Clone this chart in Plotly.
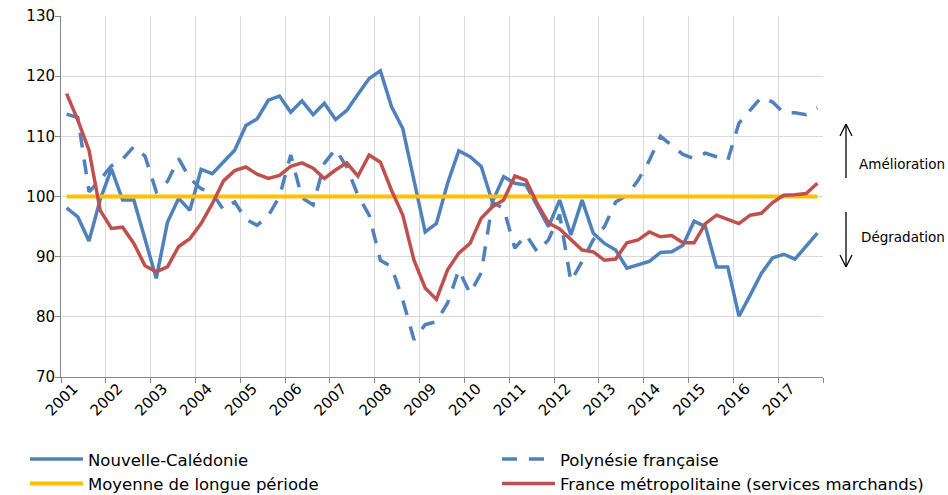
import plotly.graph_objects as go

years = [str(y) for y in range(2001, 2018)]
quarters = list(range(68))

nouvelle_caledonie = [
    98.1, 96.6, 92.6, 99.5, 104.6, 99.4, 99.4, 92.8, 86.4, 95.7, 99.7, 97.7,
    104.5, 103.8, 105.7, 107.7, 111.8, 112.9, 116.0, 116.7, 114.0, 115.9, 113.6, 115.5,
    112.8, 114.3, 117.0, 119.6, 120.9, 114.9, 111.3, 102.6, 94.1, 95.5, 102.2, 107.6,
    106.6, 105.0, 99.1, 103.3, 102.2, 101.9, 98.3, 95.0, 99.4, 93.6, 99.4, 93.9,
    92.2, 91.1, 88.1, 88.6, 89.2, 90.7, 90.8, 91.9, 95.9, 95.0, 88.3, 88.3,
    80.1, 83.6, 87.2, 89.8, 90.4, 89.6, 91.7, 93.9,
]
polynesie = [
    113.7, 113.1, 100.8, 102.8, 105.1, 106.2, 108.3, 106.7, 100.8, 102.5, 106.3, 103.0,
    101.3, 100.6, 97.8, 99.1, 96.2, 95.2, 96.8, 100.0, 106.9, 99.8, 98.6, 105.5,
    107.9, 104.9, 100.2, 96.9, 89.4, 88.3, 82.8, 76.2, 78.7, 79.2, 82.3, 87.8,
    83.9, 87.3, 99.0, 98.0, 91.4, 93.6, 90.8, 92.8, 97.0, 85.9, 89.2, 92.8,
    95.0, 99.1, 100.2, 102.7, 106.0, 110.0, 108.5, 107.0, 106.3, 107.2, 106.6, 106.0,
    112.2, 114.3, 116.5, 115.7, 113.9, 113.9, 113.6, 114.7,
]
moyenne = [100.0] * 68
france = [
    117.1, 112.7, 107.7, 97.7, 94.7, 94.9, 92.2, 88.5, 87.5, 88.3, 91.7, 93.0,
    95.5, 98.8, 102.6, 104.3, 104.9, 103.7, 103.0, 103.5, 105.0, 105.6, 104.7, 103.0,
    104.4, 105.6, 103.4, 106.9, 105.7, 101.0, 96.9, 89.4, 84.8, 82.9, 87.8, 90.6,
    92.2, 96.4, 98.3, 99.4, 103.4, 102.7, 98.8, 95.6, 94.6, 92.8, 91.1, 90.8,
    89.4, 89.6, 92.3, 92.8, 94.1, 93.3, 93.5, 92.3, 92.3, 95.5, 96.9, 96.2,
    95.5, 96.9, 97.2, 99.0, 100.2, 100.3, 100.5, 102.2,
]

BLUE = "#4F81BD"
RED = "#C0504D"
YELLOW = "#FFC000"
FONT = "DejaVu Sans"

fig = go.Figure()
fig.add_trace(go.Scatter(x=quarters, y=nouvelle_caledonie, mode="lines", name="Nouvelle-Calédonie",
                         line=dict(color=BLUE, width=3.5), legend="legend"))
fig.add_trace(go.Scatter(x=quarters, y=polynesie, mode="lines", name="Polynésie française",
                         line=dict(color=BLUE, width=3.5, dash="15px,12px"), legend="legend2"))
fig.add_trace(go.Scatter(x=quarters, y=moyenne, mode="lines", name="Moyenne de longue période",
                         line=dict(color=YELLOW, width=4), legend="legend"))
fig.add_trace(go.Scatter(x=quarters, y=france, mode="lines", name="France métropolitaine (services marchands)",
                         line=dict(color=RED, width=3.5), legend="legend2"))

boundaries = [-0.5 + 4 * k for k in range(18)]
label_pos = [0.6 + 4 * k for k in range(17)]

legend_common = dict(orientation="v", xanchor="left", yanchor="top", y=-0.1797, itemwidth=53,
                     font=dict(family=FONT, size=16.5, color="#000000"),
                     tracegroupgap=0, bgcolor="rgba(0,0,0,0)", traceorder="normal")

fig.update_layout(
    width=948, height=495,
    margin=dict(l=61, r=125, t=16, b=118, autoexpand=False),
    paper_bgcolor="white", plot_bgcolor="white",
    font=dict(family=FONT, size=15, color="#000000"),
    showlegend=True,
    legend=dict(x=(25 - 61) / 762.0, **legend_common),
    legend2=dict(x=(497 - 61) / 762.0, **legend_common),
    xaxis=dict(range=[-0.5, 67.5], tickmode="array", tickvals=label_pos, ticktext=years,
               tickangle=-45, showgrid=False, ticks="",
               showline=True, linecolor="#868686", linewidth=1, zeroline=False,
               ticklabelstandoff=-4,
               tickfont=dict(family=FONT, size=15, color="#000000"),
               minor=dict(tickmode="array", tickvals=boundaries, ticks="outside", ticklen=5,
                          tickcolor="#868686", showgrid=True, gridcolor="#D9D9D9", gridwidth=1)),
    yaxis=dict(range=[70, 130], tickmode="array", tickvals=[70, 80, 90, 100, 110, 120, 130],
               showgrid=True, gridcolor="#D9D9D9", gridwidth=1,
               showline=True, linecolor="#868686", linewidth=1,
               ticks="outside", ticklen=5, tickcolor="#868686", zeroline=False,
               ticklabelstandoff=-3,
               tickfont=dict(family=FONT, size=15, color="#000000")),
)

def px_x(p):
    return (p - 61) / 762.0

def px_y(p):
    return (377 - p) / 361.0

shapes = []
arrow_segments = [
    ((846, 178), (846, 124)), ((840, 136), (846, 124)), ((852, 136), (846, 124)),
    ((846, 212), (846, 267)), ((840, 255), (846, 267)), ((852, 255), (846, 267)),
]
for (x0, y0), (x1, y1) in arrow_segments:
    shapes.append(dict(type="line", xref="paper", yref="paper",
                       x0=px_x(x0), y0=px_y(y0), x1=px_x(x1), y1=px_y(y1),
                       line=dict(color="#000000", width=1.3)))
fig.update_layout(shapes=shapes)

fig.add_annotation(text="Amélioration", xref="paper", yref="paper", x=px_x(857), y=px_y(164),
                   xanchor="left", yanchor="middle", showarrow=False,
                   font=dict(family=FONT, size=13.5, color="#000000"))
fig.add_annotation(text="Dégradation", xref="paper", yref="paper", x=px_x(859), y=px_y(237),
                   xanchor="left", yanchor="middle", showarrow=False,
                   font=dict(family=FONT, size=13.5, color="#000000"))

fig.write_html("out.html", config={"displayModeBar": False},
               post_script="document.body.style.margin='0';document.body.style.overflow='hidden';")
